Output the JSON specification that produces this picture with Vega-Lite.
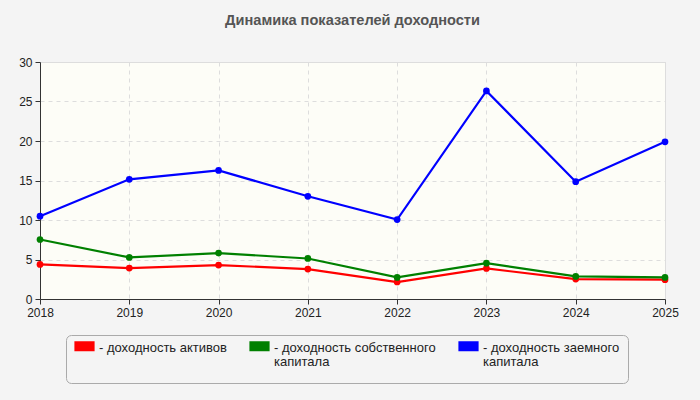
{
  "$schema": "https://vega.github.io/schema/vega-lite/v6.json",
  "width": 625,
  "height": 237,
  "autosize": {"type": "none"},
  "padding": {"left": 40, "top": 62, "right": 35, "bottom": 101},
  "background": "#f4f4f4",
  "title": {"text": "Динамика показателей доходности", "fontSize": 14.6, "font": "Liberation Sans", "fontWeight": "bold", "color": "#555555", "offset": 28, "anchor": "middle"},
  "config": {
    "view": {"fill": "#fdfdf7", "stroke": "#dddddd"},
    "font": "Liberation Sans",
    "axis": {"labelFont": "Liberation Sans", "labelFontSize": 12, "labelColor": "#222222", "domainColor": "#333333", "tickColor": "#333333", "tickSize": 5, "gridColor": "#dddddd", "gridDash": [4, 4], "title": null}
  },
  "data": {"values": [
    {"year": "2018", "series": "доходность активов", "value": 4.38},
    {"year": "2019", "series": "доходность активов", "value": 3.91},
    {"year": "2020", "series": "доходность активов", "value": 4.29},
    {"year": "2021", "series": "доходность активов", "value": 3.79},
    {"year": "2022", "series": "доходность активов", "value": 2.15},
    {"year": "2023", "series": "доходность активов", "value": 3.87},
    {"year": "2024", "series": "доходность активов", "value": 2.52},
    {"year": "2025", "series": "доходность активов", "value": 2.44},
    {"year": "2018", "series": "доходность собственного капитала", "value": 7.53},
    {"year": "2019", "series": "доходность собственного капитала", "value": 5.26},
    {"year": "2020", "series": "доходность собственного капитала", "value": 5.81},
    {"year": "2021", "series": "доходность собственного капитала", "value": 5.13},
    {"year": "2022", "series": "доходность собственного капитала", "value": 2.73},
    {"year": "2023", "series": "доходность собственного капитала", "value": 4.54},
    {"year": "2024", "series": "доходность собственного капитала", "value": 2.86},
    {"year": "2025", "series": "доходность собственного капитала", "value": 2.73},
    {"year": "2018", "series": "доходность заемного капитала", "value": 10.48},
    {"year": "2019", "series": "доходность заемного капитала", "value": 15.15},
    {"year": "2020", "series": "доходность заемного капитала", "value": 16.28},
    {"year": "2021", "series": "доходность заемного капитала", "value": 13.0},
    {"year": "2022", "series": "доходность заемного капитала", "value": 10.05},
    {"year": "2023", "series": "доходность заемного капитала", "value": 26.34},
    {"year": "2024", "series": "доходность заемного капитала", "value": 14.85},
    {"year": "2025", "series": "доходность заемного капитала", "value": 19.9}
  ]},
  "mark": {"type": "line", "point": {"filled": true, "size": 45, "opacity": 1}},
  "encoding": {
    "x": {"field": "year", "type": "ordinal", "scale": {"type": "point", "padding": 0}, "axis": {"labelAngle": 0, "grid": true, "labelPadding": 3}},
    "y": {"field": "value", "type": "quantitative", "scale": {"domain": [0, 30]}, "axis": {"values": [0, 5, 10, 15, 20, 25, 30], "grid": true, "labelPadding": 3}},
    "strokeWidth": {"field": "series", "type": "nominal", "scale": {"domain": ["доходность активов", "доходность собственного капитала", "доходность заемного капитала"], "range": [2.2, 2.2, 1.5]}, "legend": null},
    "color": {
      "field": "series", "type": "nominal",
      "scale": {"domain": ["доходность активов", "доходность собственного капитала", "доходность заемного капитала"], "range": ["#ff0000", "#008000", "#0000ff"]},
      "legend": {
        "orient": "none", "legendX": 26, "legendY": 273,
        "direction": "horizontal", "columns": 3,
        "title": "\u00a0", "titleOrient": "bottom", "titleFontSize": 6, "titlePadding": 0,
        "fillColor": "#f4f4f4", "strokeColor": "#aaaaaa", "cornerRadius": 5, "padding": 8,
        "symbolType": "M-1,-0.444H1V0.444H-1Z", "symbolSize": 324, "symbolStrokeWidth": 0, "symbolOpacity": 1,
        "labelFont": "Liberation Sans", "labelFontSize": 13, "labelColor": "#222222", "labelLimit": 250,
        "labelBaseline": "top", "labelOffset": 4, "columnPadding": 19,
        "labelExpr": "datum.label == 'доходность активов' ? ['- доходность активов', '\u00a0'] : datum.label == 'доходность собственного капитала' ? ['- доходность собственного', '\u00a0\u00a0капитала'] : ['- доходность заемного', '\u00a0\u00a0капитала']",
        "encode": {
          "symbols": {"update": {"fill": {"scale": "color", "field": "value"}, "stroke": {"scale": "color", "field": "value"}, "y": {"value": 3}}},
          "labels": {"update": {"y": {"value": -1}, "lineHeight": {"value": 13.5}}}
        }
      }
    }
  }
}
